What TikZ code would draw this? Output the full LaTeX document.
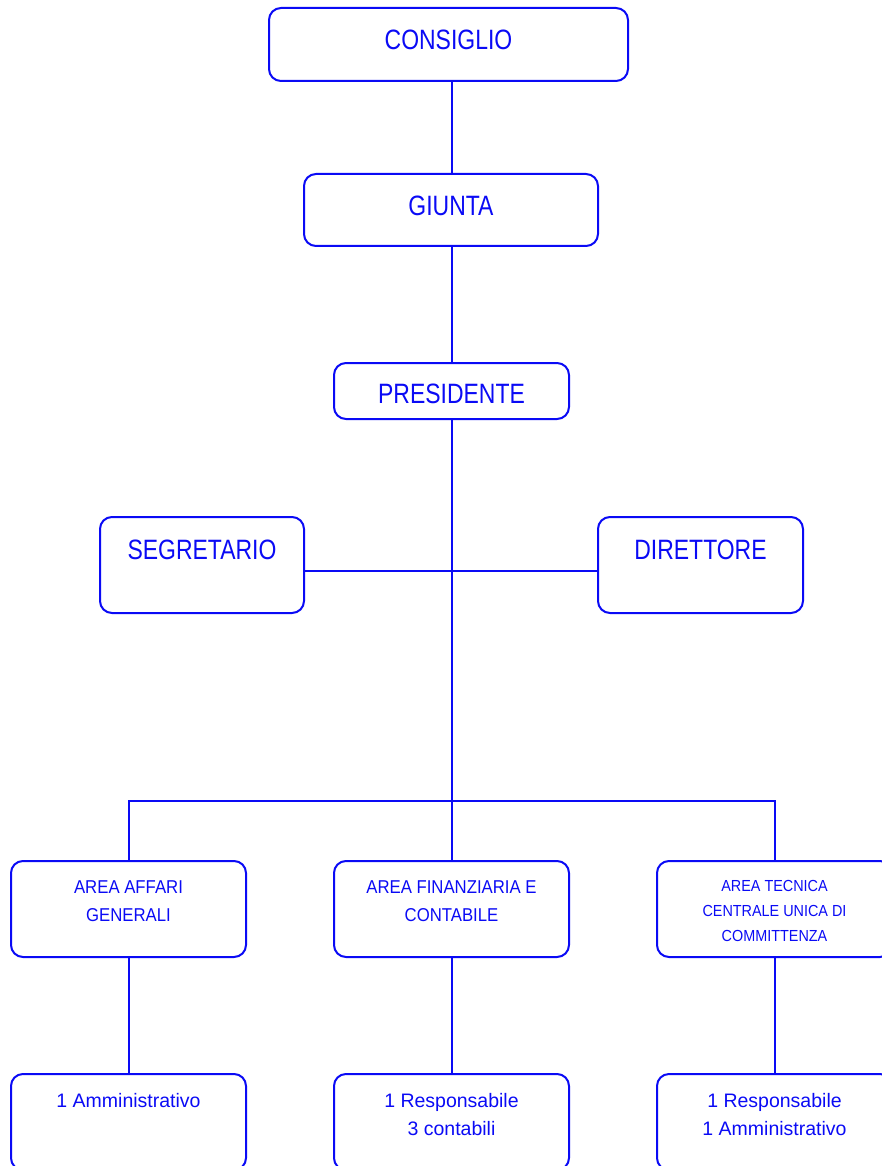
\documentclass[tikz,border=0pt]{standalone}
\usepackage{fontspec}
\setmainfont{Liberation Sans}[FakeStretch=0.82]
\newfontfamily\areafont{Liberation Sans}[FakeStretch=0.9]
\newfontfamily\stafffont{Liberation Sans}
\definecolor{orgblue}{RGB}{10,10,245}
\begin{document}
\begin{tikzpicture}[x=1pt,y=-1pt,
  box/.style={draw=orgblue, line width=2pt, rounded corners=12pt, inner sep=0pt},
  conn/.style={draw=orgblue, line width=2pt},
  bigtxt/.style={text=orgblue, font=\fontsize{28}{30}\selectfont, inner sep=0pt},
  midtxt/.style={text=orgblue, font=\areafont\fontsize{18.6}{28}\selectfont, inner sep=0pt, align=center},
  smalltxt/.style={text=orgblue, font=\areafont\fontsize{16}{25}\selectfont, inner sep=0pt, align=center},
  lowtxt/.style={text=orgblue, font=\stafffont\fontsize{19.5}{28}\selectfont, inner sep=0pt, align=center}]
\useasboundingbox (0,0) rectangle (882,1166);
\clip (0,0) rectangle (882,1166);
% boxes
\node[box, minimum width=359pt, minimum height=73pt] (cons) at (448.5,44.5) {};
\node[box, minimum width=294pt, minimum height=72pt] (giunta) at (451,210) {};
\node[box, minimum width=235pt, minimum height=56pt] (pres) at (451.5,391) {};
\node[box, minimum width=204pt, minimum height=96pt] (segr) at (202,565) {};
\node[box, minimum width=205pt, minimum height=96pt] (dir) at (700.5,565) {};
\node[box, minimum width=235pt, minimum height=96pt] (area1) at (128.5,909) {};
\node[box, minimum width=235pt, minimum height=96pt] (area2) at (451.5,909) {};
\node[box, minimum width=235pt, minimum height=96pt] (area3) at (774.5,909) {};
\node[box, minimum width=235pt, minimum height=96pt] (staff1) at (128.5,1122) {};
\node[box, minimum width=235pt, minimum height=96pt] (staff2) at (451.5,1122) {};
\node[box, minimum width=235pt, minimum height=96pt] (staff3) at (774.5,1122) {};
% texts
\node[bigtxt] (tcons) at (448.5,40) {CONSIGLIO};
\node[bigtxt] (tgiunta) at (451,206) {GIUNTA};
\node[bigtxt] (tpres) at (451.5,394) {PRESIDENTE};
\node[bigtxt] (tsegr) at (202,550) {SEGRETARIO};
\node[bigtxt] (tdir) at (700.5,550) {DIRETTORE};
\node[midtxt] (tarea1) at (128.5,901) {AREA AFFARI\\GENERALI};
\node[midtxt] (tarea2) at (451.5,901) {AREA FINANZIARIA E\\CONTABILE};
\node[smalltxt] (tarea3) at (774.5,911) {AREA TECNICA\\CENTRALE UNICA DI\\COMMITTENZA};
\node[lowtxt] (tstaff1) at (128.5,1101) {1 Amministrativo};
\node[lowtxt] (tstaff2) at (451.5,1115) {1 Responsabile\\3 contabili};
\node[lowtxt] (tstaff3) at (774.5,1115) {1 Responsabile\\1 Amministrativo};
% connectors
\coordinate (bus) at (452,801);
\draw[conn] (giunta.north -| bus) -- (cons.south -| bus);
\draw[conn] (pres.north -| bus) -- (giunta.south -| bus);
\draw[conn] (pres.south -| bus) -- (area2.north -| bus);
\draw[conn] ([yshift=-6pt]segr.east) -- ([yshift=-6pt]dir.west);
\draw[conn] (area1.north) |- (bus) -| (area3.north);
\draw[conn] (area1.south) -- (staff1.north);
\draw[conn] (area2.south) -- (staff2.north);
\draw[conn] (area3.south) -- (staff3.north);
\end{tikzpicture}
\end{document}
